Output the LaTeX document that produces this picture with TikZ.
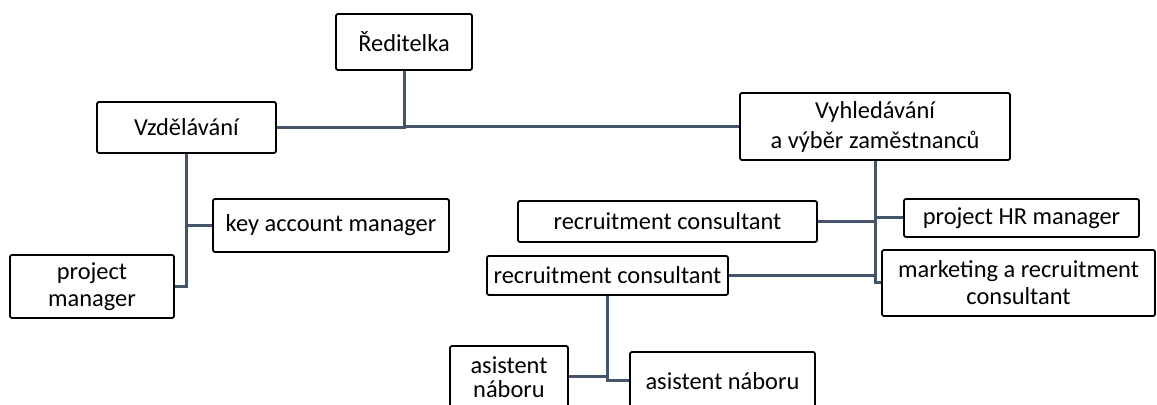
\documentclass[tikz,border=0pt]{standalone}
\usepackage{fontspec}
\setmainfont{Carlito}
\definecolor{linkc}{HTML}{44546A}
\begin{document}
\begin{tikzpicture}[x=0.5pt,y=-0.5pt,
  orgbox/.style={draw=black, fill=white, line width=0.9pt, rounded corners=1pt,
    inner sep=0pt, align=center, font=\fontsize{12.2}{13.5}\selectfont},
  link/.style={draw=linkc, line width=1.5pt}]
\useasboundingbox (0,0) rectangle (1157,405);
\node[orgbox, minimum width=68pt, minimum height=28pt] (R) at (404,42) {Ředitelka};
\node[orgbox, minimum width=89.5pt, minimum height=25.5pt] (V) at (186.5,127.5) {Vzdělávání};
\node[orgbox, minimum width=135pt, minimum height=33.5pt, font=\fontsize{12.2}{15}\selectfont] (Vy) at (875,126.5) {Vyhledávání\\a výběr zaměstnanců};
\node[orgbox, minimum width=118pt, minimum height=26.5pt] (K) at (331,225.5) {key account manager};
\node[orgbox, minimum width=82pt, minimum height=31.5pt] (PM) at (92,286.5) {project\\manager};
\node[orgbox, minimum width=149.5pt, minimum height=20.5pt] (RC1) at (667.5,221.5) {recruitment consultant};
\node[orgbox, minimum width=117.5pt, minimum height=19pt] (HR) at (1021.5,218) {project HR manager};
\node[orgbox, minimum width=120.5pt, minimum height=19.5pt] (RC2) at (607.5,275.5) {recruitment consultant};
\node[orgbox, minimum width=136.5pt, minimum height=33pt] (MK) at (1018.5,283) {marketing a recruitment\\consultant};
\node[orgbox, minimum width=59pt, minimum height=31pt, font=\fontsize{12.2}{12}\selectfont] (A1) at (509,377) {asistent\\náboru};
\node[orgbox, minimum width=92.5pt, minimum height=29pt] (A2) at (722.5,381) {asistent náboru};
\draw[link] (R.south) |- (V.east);
\draw[link] (R.south) |- (Vy.west);
\draw[link] (V.south) |- (K.west);
\draw[link] (V.south) |- (PM.east);
\draw[link] (Vy.south) |- (RC1.east);
\draw[link] (Vy.south) |- (HR.west);
\draw[link] (Vy.south) |- (RC2.east);
\draw[link] (Vy.south) |- (MK.west);
\draw[link] (RC2.south) |- (A1.east);
\draw[link] (RC2.south) |- (A2.west);
\end{tikzpicture}
\end{document}
